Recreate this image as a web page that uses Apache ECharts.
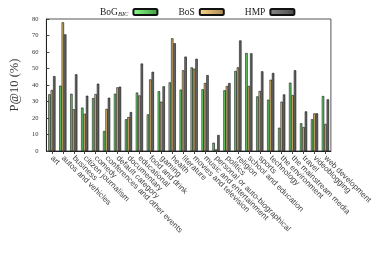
<!DOCTYPE html>
<html><head><meta charset="utf-8">
<script src="https://cdn.jsdelivr.net/npm/echarts@6/dist/echarts.min.js"></script>
<style>html,body{margin:0;padding:0;background:#fff}#c{width:374px;height:263px}</style>
</head><body><div id="c"></div>
<script>
const categories = ["art","autos and vehicles","business","citizen journalism","comedy","conferences and other events","default category","documentary","educational","food and drink","gaming","health","literature","movies and television","music and entertainment","personal or auto-biographical","politics","religion","school and education","sports","technology","the environment","the mainstream media","travel","videoblogging","web development"];
const bogBIC = [34.4,39.6,34.7,26.3,32.1,12.1,34.7,19.2,35.4,22.2,36.2,41.6,37.2,50.7,37.4,5.0,36.8,48.5,59.4,33.1,31.1,14.1,41.4,16.8,19.2,33.3];
const bos    = [37.0,78.0,25.3,22.6,34.5,25.5,38.6,20.6,33.7,43.4,29.9,68.3,48.9,49.9,41.2,1.0,39.4,50.7,39.4,36.4,43.2,29.9,33.9,14.5,22.8,16.4];
const hmp    = [45.4,70.7,46.5,33.5,40.8,32.3,39.0,23.6,53.0,48.0,39.2,65.3,57.2,55.9,46.0,9.7,41.2,67.0,59.2,48.3,47.3,34.3,48.9,24.0,22.8,31.3];
const yTicks = [0,10,20,30,40,50,60,70,80];

function grad(a,b){return new echarts.graphic.LinearGradient(0,0,1,0,[{offset:0,color:a},{offset:1,color:b}]);}
const chart = echarts.init(document.getElementById('c'), null, {renderer:'canvas'});
const serif = '"Liberation Serif","DejaVu Serif",serif';
const sans = '"Liberation Sans","DejaVu Sans",sans-serif';
function mk(name,data,c1,c2){
  return {name:name,type:'bar',data:data,barGap:'0%',barCategoryGap:'34%',
    itemStyle:{color:grad(c1,c2),borderColor:'#111',borderWidth:0.6}};
}
chart.setOption({
  animation:false,
  legend:{top:2,left:95,itemGap:20,itemWidth:24,itemHeight:6,align:'right',
    textStyle:{fontFamily:serif,fontSize:9.5,color:'#222',
      rich:{s:{fontFamily:serif,fontStyle:'italic',fontSize:6.5,verticalAlign:'bottom',padding:[4,0,0,0]},b:{fontFamily:serif,fontSize:9.5}}},
    formatter:function(n){return n==='BoG'?'{b|BoG}{s|BIC}':n;},
    data:['BoG','BoS','HMP']},
  grid:{left:36,right:16,top:19,bottom:112,show:true,borderColor:'#555',borderWidth:1,backgroundColor:'transparent'},
  xAxis:{type:'category',data:categories,
    axisLine:{lineStyle:{color:'#222'}},
    axisTick:{show:true,alignWithLabel:true,length:3,lineStyle:{color:'#444'}},
    axisLabel:{rotate:-45,interval:0,fontFamily:sans,fontSize:8,color:'#444',margin:6}},
  yAxis:{type:'value',min:0,max:80,interval:10,
    name:'P@10 (%)',nameLocation:'middle',nameGap:22,nameRotate:90,
    nameTextStyle:{fontFamily:serif,fontSize:12.5,color:'#333'},
    axisLine:{show:true,lineStyle:{color:'#222'}},
    axisTick:{show:true,inside:true,length:3,lineStyle:{color:'#444'}},
    splitLine:{show:false},
    axisLabel:{fontFamily:serif,fontSize:6.5,color:'#333',margin:8,
      formatter:function(v){return yTicks.indexOf(v)>=0?String(v):'';}}},
  series:[
    mk('BoG',bogBIC,'#8cff8c','#3f9a3f'),
    mk('BoS',bos,'#ffd58a','#a8864e'),
    mk('HMP',hmp,'#8a8a8a','#4a4a4a')
  ]
});
</script></body></html>
